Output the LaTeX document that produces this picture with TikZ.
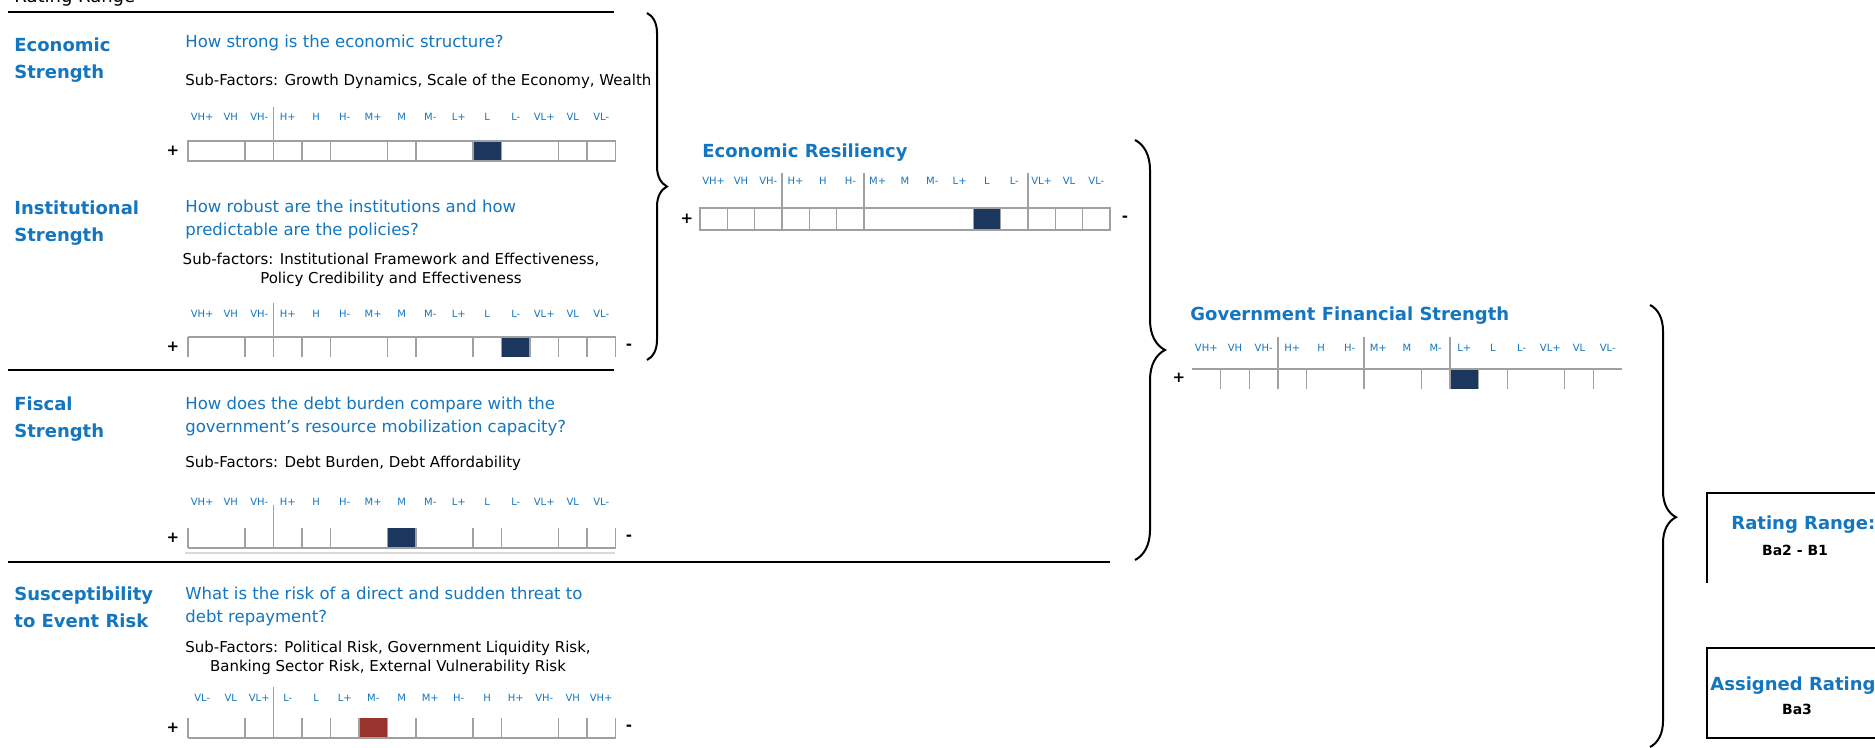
\documentclass[tikz,border=0pt]{standalone}
\usepackage{fontspec}
\setmainfont{DejaVu Sans}
\usetikzlibrary{decorations.pathreplacing}
\definecolor{mblue}{RGB}{20,118,190}
\definecolor{mnavy}{RGB}{27,55,94}
\definecolor{mred}{RGB}{153,52,46}
\definecolor{mgrey}{RGB}{160,160,160}
\begin{document}
\begin{tikzpicture}[x=0.5pt,y=-0.5pt,
	factor/.style={anchor=north west,inner sep=0,text=mblue,align=left,font=\fontsize{9}{13.5}\selectfont\bfseries},
	question/.style={anchor=north west,inner sep=0,text=mblue,align=left,font=\fontsize{8.25}{11.5}\selectfont},
	subfac/.style={anchor=north west,inner sep=0,align=left,font=\fontsize{7.5}{9.75}\selectfont},
	heading/.style={anchor=base west,inner sep=0,text=mblue,font=\fontsize{9}{11}\selectfont\bfseries},
	lbl/.style={anchor=base,inner sep=0,text=mblue,font=\fontsize{5}{6}\selectfont},
	sign/.style={inner sep=0,font=\fontsize{7.5}{9}\selectfont\bfseries},
	barline/.style={draw=mgrey,line width=0.8pt},
	rulerline/.style={line width=1.2pt},
	curly/.style={decorate,line width=1pt},
	ratingbox/.style={line width=1pt}]
	\useasboundingbox[fill=white] (0,0) rectangle (1875,748);
	% header, mostly cut off
	\node[anchor=base west,inner sep=0,font=\fontsize{9}{11}\selectfont] (hdr) at (14,3) {Rating Range};
	\draw[rulerline] (8,12) -- (614,12);
	\draw[rulerline] (8,370) -- (614,370);
	\draw[rulerline] (8,562) -- (1110,562);
	\draw[draw=black!15,line width=0.8pt] (185,553) -- (615,553);

	% economic strength
	\node[factor] (es) at (14,37) {Economic\\Strength};
	\node[question] (esq) at (185,34.5) {How strong is the economic structure?};
	\node[subfac] (ess) at (185,73.6) {Sub-Factors: Growth Dynamics, Scale of the Economy, Wealth};
	\foreach \l [count=\i from 0] in {VH+,VH,VH-,H+,H,H-,M+,M,M-,L+,L,L-,VL+,VL,VL-}
		\node[lbl] (es-l\i) at ({188+28.5*\i+14.25},121) {\l};
	\fill[mnavy] (473,141) rectangle (501.5,161);
	\draw[barline] (188,141) rectangle (615.5,161);
	\foreach \k in {2,3,4,5,7,8,10,11,13,14}
		\draw[barline] ({188+28.5*\k},141) -- ({188+28.5*\k},161);
	\draw[barline] (273.5,107) -- (273.5,161);
	\node[sign] (es-p) at (173,151) {+};

	% institutional strength
	\node[factor] (is) at (14,200) {Institutional\\Strength};
	\node[question] (isq) at (185,199.5) {How robust are the institutions and how\\predictable are the policies?};
	\node[subfac,anchor=north,align=center] (iss) at (391,252.6) {Sub-factors: Institutional Framework and Effectiveness,\\Policy Credibility and Effectiveness};
	\foreach \l [count=\i from 0] in {VH+,VH,VH-,H+,H,H-,M+,M,M-,L+,L,L-,VL+,VL,VL-}
		\node[lbl] (is-l\i) at ({188+28.5*\i+14.25},318) {\l};
	\fill[mnavy] (501.5,337) rectangle (530,357);
	\draw[barline] (188,337) -- (615.5,337);
	\foreach \k in {0,2,3,4,5,7,8,10,11,12,13,14,15}
		\draw[barline] ({188+28.5*\k},337) -- ({188+28.5*\k},357);
	\draw[barline] (273.5,303) -- (273.5,357);
	\node[sign] (is-p) at (173,347) {+};
	\node[sign] (is-m) at (629,347) {-};

	% fiscal strength
	\node[factor] (fs) at (14,396) {Fiscal\\Strength};
	\node[question] (fsq) at (185,396.5) {How does the debt burden compare with the\\government's resource mobilization capacity?};
	\node[subfac] (fss) at (185,455.6) {Sub-Factors: Debt Burden, Debt Affordability};
	\foreach \l [count=\i from 0] in {VH+,VH,VH-,H+,H,H-,M+,M,M-,L+,L,L-,VL+,VL,VL-}
		\node[lbl] (fs-l\i) at ({188+28.5*\i+14.25},506) {\l};
	\fill[mnavy] (387.5,528) rectangle (416,548);
	\draw[barline] (188,548) -- (615.5,548);
	\foreach \k in {0,2,3,4,5,7,8,10,11,13,14,15}
		\draw[barline] ({188+28.5*\k},528) -- ({188+28.5*\k},548);
	\draw[barline] (273.5,505) -- (273.5,548);
	\node[sign] (fs-p) at (173,538) {+};
	\node[sign] (fs-m) at (629,538) {-};

	% susceptibility to event risk
	\node[factor] (er) at (14,586) {Susceptibility\\to Event Risk};
	\node[question] (erq) at (185,586.5) {What is the risk of a direct and sudden threat to\\debt repayment?};
	\node[subfac,anchor=north,align=center] (ers) at (388,640.6) {Sub-Factors: Political Risk, Government Liquidity Risk,\\Banking Sector Risk, External Vulnerability Risk};
	\foreach \l [count=\i from 0] in {VL-,VL,VL+,L-,L,L+,M-,M,M+,H-,H,H+,VH-,VH,VH+}
		\node[lbl] (er-l\i) at ({188+28.5*\i+14.25},701) {\l};
	\fill[mred] (359,718) rectangle (387.5,738);
	\draw[barline] (188,738) -- (615.5,738);
	\foreach \k in {0,2,3,4,5,6,7,8,10,11,13,14,15}
		\draw[barline] ({188+28.5*\k},718) -- ({188+28.5*\k},738);
	\draw[barline] (273.5,687) -- (273.5,738);
	\node[sign] (er-p) at (173,728) {+};
	\node[sign] (er-m) at (629,728) {-};

	% economic resiliency
	\node[heading] (ecr) at (702,158) {Economic Resiliency};
	\foreach \l [count=\i from 0] in {VH+,VH,VH-,H+,H,H-,M+,M,M-,L+,L,L-,VL+,VL,VL-}
		\node[lbl] (ecr-l\i) at ({700+27.333*\i+13.667},185) {\l};
	\fill[mnavy] (973.3,208) rectangle (1000.7,230);
	\draw[barline] (700,208) rectangle (1110,230);
	\foreach \k in {1,2,3,4,5,6,10,11,12,13,14}
		\draw[barline] ({700+27.333*\k},208) -- ({700+27.333*\k},230);
	\foreach \k in {3,6,12}
		\draw[barline] ({700+27.333*\k},173) -- ({700+27.333*\k},230);
	\node[sign] (ecr-p) at (687,219) {+};
	\node[sign] (ecr-m) at (1125,219) {-};

	% government financial strength
	\node[heading] (gfs) at (1190,321) {Government Financial Strength};
	\foreach \l [count=\i from 0] in {VH+,VH,VH-,H+,H,H-,M+,M,M-,L+,L,L-,VL+,VL,VL-}
		\node[lbl] (gfs-l\i) at ({1192+28.667*\i+14.333},352) {\l};
	\fill[mnavy] (1450,369) rectangle (1478.7,389);
	\draw[barline] (1192,369) -- (1622,369);
	\foreach \k in {1,2,4,8,10,11,13,14}
		\draw[barline] ({1192+28.667*\k},369) -- ({1192+28.667*\k},389);
	\foreach \k in {3,6,9}
		\draw[barline] ({1192+28.667*\k},337) -- ({1192+28.667*\k},389);
	\node[sign] (gfs-p) at (1179,378) {+};

	% braces
	\coordinate (b1-top) at (647,13);
	\coordinate (b1-bot) at (647,360);
	\coordinate (b2-top) at (1135,140);
	\coordinate (b2-bot) at (1135,560);
	\coordinate (b3-top) at (1650,305);
	\coordinate (b3-bot) at (1650,747);
	\draw[curly,decoration={brace,amplitude=10pt}] (b1-top) -- (b1-bot);
	\draw[curly,decoration={brace,amplitude=15pt}] (b2-top) -- (b2-bot);
	\draw[curly,decoration={brace,amplitude=13pt,aspect=0.48}] (b3-top) -- (b3-bot);

	% rating boxes
	\draw[ratingbox] (1875,493) -- (1707,493) -- (1707,583);
	\draw[ratingbox] (1875,648) -- (1707,648) -- (1707,738) -- (1875,738);
	\node[heading] (rr) at (1731,530) {Rating Range:};
	\node[anchor=base,inner sep=0,font=\fontsize{7}{8}\selectfont\bfseries] (rrv) at (1795,555) {Ba2 - B1};
	\node[heading] (ar) at (1710,690) {Assigned Rating};
	\node[anchor=base,inner sep=0,font=\fontsize{7}{8}\selectfont\bfseries] (arv) at (1797,714) {Ba3};
\end{tikzpicture}
\end{document}
